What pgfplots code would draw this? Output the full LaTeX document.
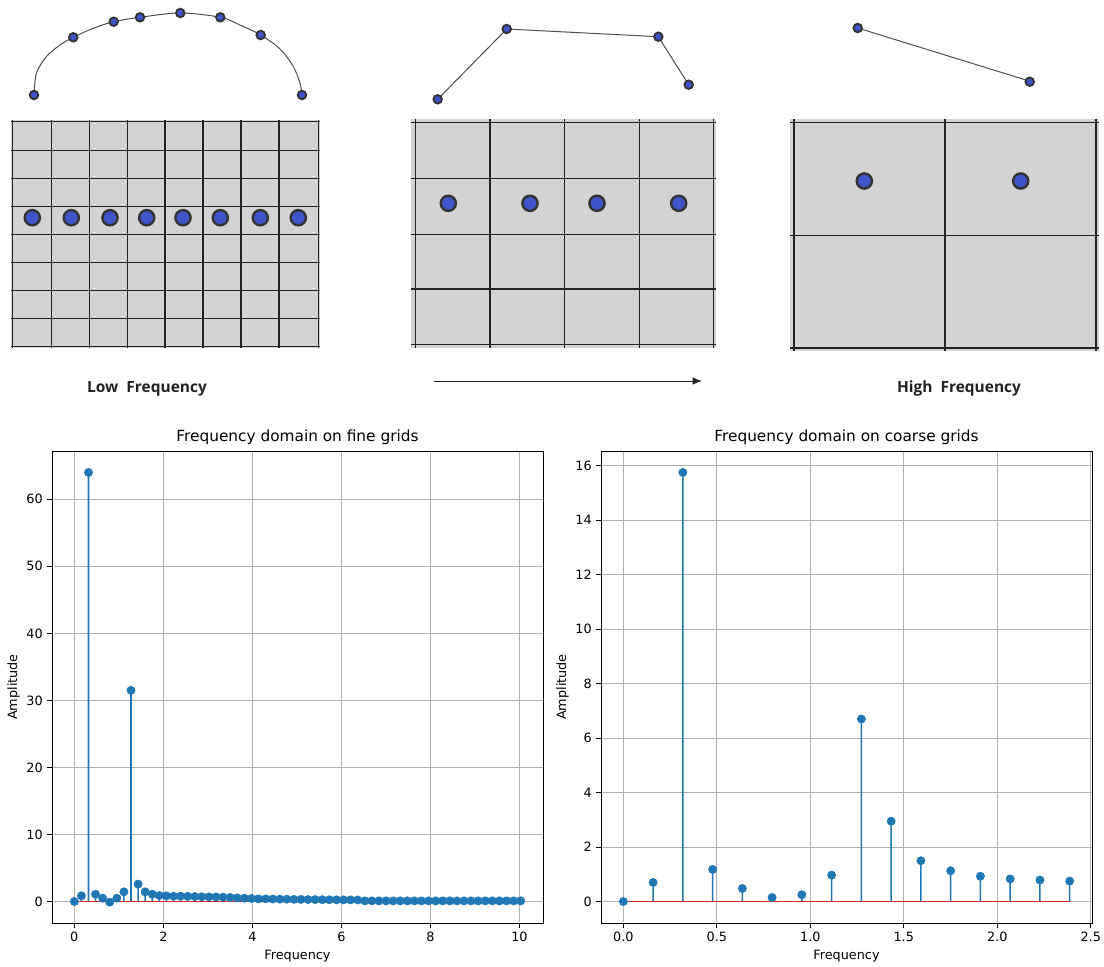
\documentclass[border=0pt]{standalone}
\usepackage{pgfplots}
\pgfplotsset{compat=1.18}
\usepackage{pgfplotstable}
\usepackage{fontspec}
\setmainfont{DejaVu Sans}
\newfontfamily\labfont{Open Sans}
\usetikzlibrary{arrows.meta}
\definecolor{c0}{HTML}{1F77B4}
\definecolor{cred}{HTML}{D62728}
\definecolor{gridc}{HTML}{B0B0B0}
\definecolor{dotblue}{RGB}{64,84,204}
\definecolor{dotedge}{HTML}{333333}
\definecolor{panelgray}{HTML}{D3D3D3}
\definecolor{gline}{HTML}{222222}

% fine grid spectrum
\pgfplotstableread{
x y
0.0000 0.0
0.1592 0.85
0.3183 64.0
0.4775 1.1
0.6366 0.5
0.7958 -0.1
0.9549 0.5
1.1141 1.45
1.2732 31.5
1.4324 2.6
1.5915 1.45
1.7507 1.1
1.9099 0.9
2.0690 0.85
2.2282 0.8
2.3873 0.8
2.5465 0.78
2.7056 0.75
2.8648 0.72
3.0239 0.7
3.1831 0.68
3.3423 0.65
3.5014 0.6
3.6606 0.55
3.8197 0.5
3.9789 0.45
4.1380 0.4
4.2972 0.4
4.4563 0.38
4.6155 0.36
4.7746 0.35
4.9338 0.33
5.0930 0.32
5.2521 0.3
5.4113 0.3
5.5704 0.28
5.7296 0.27
5.8887 0.26
6.0479 0.25
6.2070 0.25
6.3662 0.24
6.5254 0.1
6.6845 0.1
6.8437 0.1
7.0028 0.1
7.1620 0.1
7.3211 0.1
7.4803 0.1
7.6394 0.1
7.7986 0.1
7.9577 0.1
8.1169 0.1
8.2761 0.1
8.4352 0.1
8.5944 0.1
8.7535 0.1
8.9127 0.1
9.0718 0.1
9.2310 0.1
9.3901 0.1
9.5493 0.1
9.7085 0.1
9.8676 0.1
10.0268 0.1
}\finetable

% coarse grid spectrum
\pgfplotstableread{
x y
0.0000 0.0
0.1592 0.7
0.3183 15.75
0.4775 1.18
0.6366 0.48
0.7958 0.15
0.9549 0.25
1.1141 0.97
1.2732 6.7
1.4324 2.95
1.5915 1.5
1.7507 1.13
1.9099 0.93
2.0690 0.83
2.2282 0.79
2.3873 0.75
}\coarsetable

\pgfplotsset{
  specaxis/.style={
    scale only axis, width=368.25pt, height=354pt,
    anchor=north west,
    axis line style={black, line width=0.6pt},
    grid=major, grid style={gridc, line width=0.6pt},
    tick align=outside, major tick length=3.4pt,
    tick style={black, line width=0.6pt},
    xtick pos=bottom, ytick pos=left,
    ticklabel style={font=\fontsize{9.6}{11}\selectfont},
    /pgf/number format/assume math mode=true,
    every axis title/.style={font=\fontsize{11.5}{13}\selectfont, at={(axis description cs:0.5,1.0297)}, anchor=center},
    xlabel style={font=\fontsize{9.6}{11}\selectfont, at={(axis description cs:0.5,-0.07)}, anchor=center},
    ylabel style={font=\fontsize{9.6}{11}\selectfont, at={(axis description cs:-0.078,0.5)}, anchor=center},
  },
}

\begin{document}
\begin{tikzpicture}
\path[use as bounding box] (0,0) rectangle (828pt,-725.25pt);

% ---------- top schematic, in pixel coordinates ----------
\begin{axis}[
  at={(0,0)}, anchor=north west,
  scale only axis, width=828pt, height=725.25pt,
  xmin=0, xmax=1104, ymin=0, ymax=967, y dir=reverse,
  hide axis, clip=false,
  unbounded coords=jump,
]
% gray panels
\addplot[fill=panelgray, draw=none] coordinates {(11,120) (320,120) (320,348) (11,348)} -- cycle;
\addplot[fill=panelgray, draw=none] coordinates {(411,119) (716,119) (716,348) (411,348)} -- cycle;
\addplot[fill=panelgray, draw=none] coordinates {(790,119) (1099,119) (1099,351) (790,351)} -- cycle;
% grid lines panel 1
\addplot[gline, line width=0.9pt] coordinates {
(12.5,120) (12.5,348) (nan,nan)
(51.5,120) (51.5,348) (nan,nan)
(89.5,120) (89.5,348) (nan,nan)
(127.5,120) (127.5,348) (nan,nan)
(165,120) (165,348) (nan,nan)
(203,120) (203,348) (nan,nan)
(241,120) (241,348) (nan,nan)
(279,120) (279,348) (nan,nan)
(318.5,120) (318.5,348) (nan,nan)
(11,121.5) (320,121.5) (nan,nan)
(11,150.5) (320,150.5) (nan,nan)
(11,178.5) (320,178.5) (nan,nan)
(11,206.5) (320,206.5) (nan,nan)
(11,234.5) (320,234.5) (nan,nan)
(11,262.5) (320,262.5) (nan,nan)
(11,290.5) (320,290.5) (nan,nan)
(11,318.5) (320,318.5) (nan,nan)
(11,346.5) (320,346.5)
};
% grid lines panel 2
\addplot[gline, line width=0.9pt] coordinates {
(415.5,119) (415.5,348) (nan,nan)
(490,119) (490,348) (nan,nan)
(564.5,119) (564.5,348) (nan,nan)
(639.5,119) (639.5,348) (nan,nan)
(713.5,119) (713.5,348) (nan,nan)
(411,122.5) (716,122.5) (nan,nan)
(411,178.5) (716,178.5) (nan,nan)
(411,234.5) (716,234.5) (nan,nan)
(411,289) (716,289) (nan,nan)
(411,344.5) (716,344.5)
};
% grid lines panel 3
\addplot[gline, line width=0.9pt] coordinates {
(794,119) (794,351) (nan,nan)
(945,119) (945,351) (nan,nan)
(1096,119) (1096,351) (nan,nan)
(790,122.5) (1099,122.5) (nan,nan)
(790,235.5) (1099,235.5) (nan,nan)
(790,348) (1099,348)
};
% grid points
\addplot[only marks, mark=*, mark size=5.7pt, mark options={fill=dotblue, draw=dotedge, line width=1.8pt}] coordinates {
(32.3,217.7) (71.3,217.7) (110,217.7) (146.7,217.7) (183,217.7) (220.3,217.7) (260.3,217.7) (298.3,217.7)
(448.3,203.3) (530,203.3) (597,203.3) (678.7,203.3)
(864.3,181) (1020.7,181)
};
% curves above panels
\addplot[gline!80, line width=0.75pt, smooth, tension=0.55] coordinates {
(34,95) (36.5,73) (46.5,56.5) (60,45) (73.3,37.3) (93.3,28.3) (113.7,21.7) (140,17.3) (180.3,13) (220.3,17.3) (240,25) (260.7,35) (280,49) (293,66) (300,83) (302,95)
};
\addplot[gline!80, line width=0.75pt] coordinates {(437.7,99.3) (506.7,29) (658.3,36.7) (688.7,84.7)};
\addplot[gline!80, line width=0.75pt] coordinates {(857.7,28) (1034,82.5)};
\addplot[only marks, mark=*, mark size=3.2pt, mark options={fill=dotblue, draw=dotedge, line width=1.4pt}] coordinates {
(34,95) (73.3,37.3) (113.7,21.7) (140,17.3) (180.3,13) (220.3,17.3) (260.7,35) (302,95)
(437.7,99.3) (506.7,29) (658.3,36.7) (688.7,84.7)
(857.7,28) (1029.7,81.7)
};
% arrow
\addplot[gline, line width=0.75pt, -{Latex[length=7pt, width=5.5pt]}] coordinates {(434,381) (702,381)};
\node[font=\labfont\bfseries\fontsize{11.6}{13}\selectfont, text=gline] at (axis cs:147,388.5) {Low\ \ Frequency};
\node[font=\labfont\bfseries\fontsize{11.6}{13}\selectfont, text=gline] at (axis cs:959,388.5) {High\ \ Frequency};
\end{axis}

% ---------- fine grid spectrum ----------
\begin{axis}[specaxis,
  at={(39pt,-338.25pt)},
  xmin=-0.5013, xmax=10.528, ymin=-3.2, ymax=67.2,
  xtick={0,2,4,6,8,10}, ytick={0,10,20,30,40,50,60},
  title={Frequency domain on fine grids},
  xlabel={Frequency}, ylabel={Amplitude},
]
\addplot[ybar, bar width=1.15pt, bar shift=0pt, fill=c0, draw=none] table[x=x, y=y] {\finetable};
\addplot[only marks, mark=*, mark size=3.1pt, c0, mark options={fill=c0, draw=c0}] table[x=x, y=y] {\finetable};
\addplot[cred, line width=1.15pt] coordinates {(0,0) (10.0268,0)};
\end{axis}

% ---------- coarse grid spectrum ----------
\begin{axis}[specaxis,
  at={(450.75pt,-338.25pt)},
  xmin=-0.1194, xmax=2.5067, ymin=-0.7875, ymax=16.5375,
  xtick={0,0.5,1,1.5,2,2.5}, ytick={0,2,4,6,8,10,12,14,16},
  xticklabel style={/pgf/number format/.cd, fixed, fixed zerofill, precision=1},
  title={Frequency domain on coarse grids},
  xlabel={Frequency}, ylabel={Amplitude},
]
\addplot[ybar, bar width=1.15pt, bar shift=0pt, fill=c0, draw=none] table[x=x, y=y] {\coarsetable};
\addplot[only marks, mark=*, mark size=3.1pt, c0, mark options={fill=c0, draw=c0}] table[x=x, y=y] {\coarsetable};
\addplot[cred, line width=1.15pt] coordinates {(0,0) (2.3873,0)};
\end{axis}
\end{tikzpicture}
\end{document}
